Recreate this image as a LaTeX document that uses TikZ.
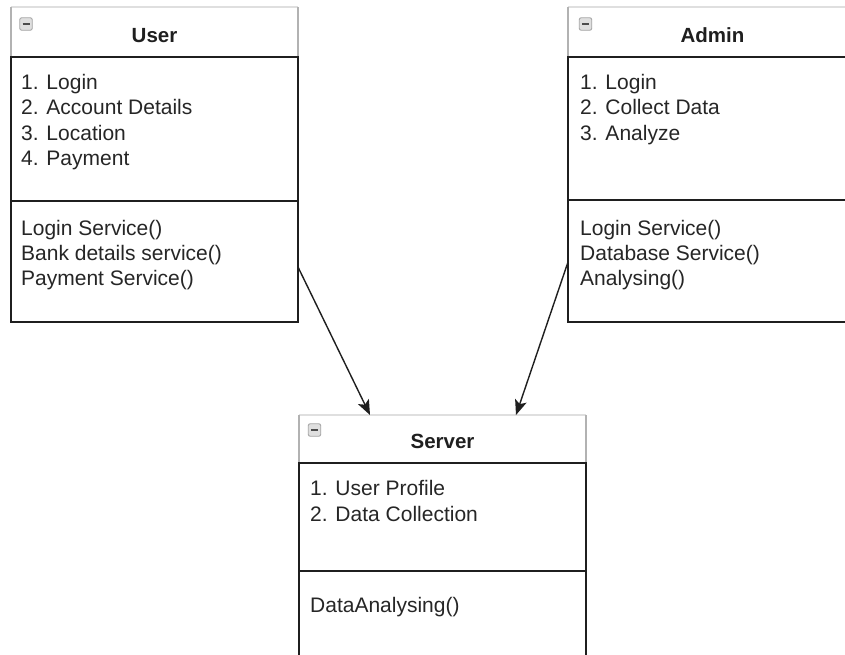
\documentclass[tikz,border=0pt]{standalone}
\usepackage{fontspec}
\setmainfont{Liberation Sans}
\usetikzlibrary{arrows.meta}

\newcommand\bodyfont{\fontsize{21}{25}\selectfont}
\newcommand\titlefont{\fontsize{20.5}{24}\selectfont\bfseries}

% outline of a UML class box: #1 node name, #2 header height, #3 offset of the
% separator between attributes and operations
\newcommand\classframe[3]{%
  \draw[headtop] (#1.north west) -- (#1.north east);
  \draw[headside] (#1.north west) -- ([yshift=-#2]#1.north west);
  \draw[headside] (#1.north east) -- ([yshift=-#2]#1.north east);
  \draw[frame] ([yshift=-#2]#1.north west) -- ([yshift=-#2]#1.north east);
  \draw[frame] ([yshift=-#3]#1.north west) -- ([yshift=-#3]#1.north east);
  \draw[frame] ([yshift=-#2]#1.north west) -- (#1.south west) -- (#1.south east)
               -- ([yshift=-#2]#1.north east);
}

\tikzset{
  classbox/.style={rectangle, draw=none, inner sep=0pt, outer sep=0pt,
                   anchor=north west},
  titletext/.style={font=\titlefont, text=black!88, anchor=base, inner sep=0pt},
  bodytext/.style={font=\bodyfont, text=black!85, anchor=base west, inner sep=0pt},
  frame/.style={line width=1.5pt, draw=black!88, line cap=rect},
  headtop/.style={line width=1.2pt, draw=gray!25},
  headside/.style={line width=1.3pt, draw=gray!60},
  arr/.style={line width=1.4pt, draw=black!88,
              -{Stealth[length=15pt,width=12pt,inset=3.5pt]}},
  collapse/.style={rectangle, minimum size=12.5pt, inner sep=0pt,
                   rounded corners=2pt, draw=gray!70, fill=gray!25,
                   line width=0.9pt,
                   path picture={\draw[black!70, line width=1.6pt]
                     ([xshift=-3.5pt]path picture bounding box.center) --
                     ([xshift=3.5pt]path picture bounding box.center);}}
}

\begin{document}
\begin{tikzpicture}[x=1pt, y=-1pt]
  \useasboundingbox (0,0) rectangle (845,654);
  \fill[white] (0,0) rectangle (845,654);
  \clip (0,0) rectangle (845,654);

  % class boxes
  \node[classbox, minimum width=287pt, minimum height=315pt] (user)   at (11,7) {};
  \node[classbox, minimum width=289pt, minimum height=315pt] (admin)  at (568,7) {};
  \node[classbox, minimum width=287pt, minimum height=315pt] (server) at (299,415) {};

  \classframe{user}{50pt}{194pt}
  \classframe{admin}{50pt}{193pt}
  \classframe{server}{48pt}{156pt}

  % collapse icons
  \node[collapse] (usericon)   at (26,24) {};
  \node[collapse] (adminicon)  at (585.5,24) {};
  \node[collapse] (servericon) at (314.5,430) {};

  % titles
  \node[titletext] (usertitle)   at (154.5,42) {User};
  \node[titletext] (admintitle)  at (712.5,42) {Admin};
  \node[titletext] (servertitle) at (442.5,448) {Server};

  % User
  \foreach \t [count=\i] in {1. Login, 2. Account Details, 3. Location, 4. Payment}
    \node[bodytext, name=userattr\i] at ({21},{63.5+25.5*\i}) {\t};
  \foreach \t [count=\i] in {Login Service(), Bank details service(), Payment Service()}
    \node[bodytext, name=userop\i] at ({21},{210+25*\i}) {\t};

  % Admin
  \foreach \t [count=\i] in {1. Login, 2. Collect Data, 3. Analyze}
    \node[bodytext, name=adminattr\i] at ({580},{63.5+25.5*\i}) {\t};
  \foreach \t [count=\i] in {Login Service(), Database Service(), Analysing()}
    \node[bodytext, name=adminop\i] at ({580},{210+25*\i}) {\t};

  % Server
  \foreach \t [count=\i] in {1. User Profile, 2. Data Collection}
    \node[bodytext, name=serverattr\i] at ({310},{469+26*\i}) {\t};
  \node[bodytext] (serverop1) at (310,612) {DataAnalysing()};

  % associations
  \draw[arr] ([yshift=-102.5pt]user.east) -- ([xshift=71pt]server.north west);
  \draw[arr] ([yshift=-97.5pt]admin.west) -- ([xshift=217pt]server.north west);
\end{tikzpicture}
\end{document}
